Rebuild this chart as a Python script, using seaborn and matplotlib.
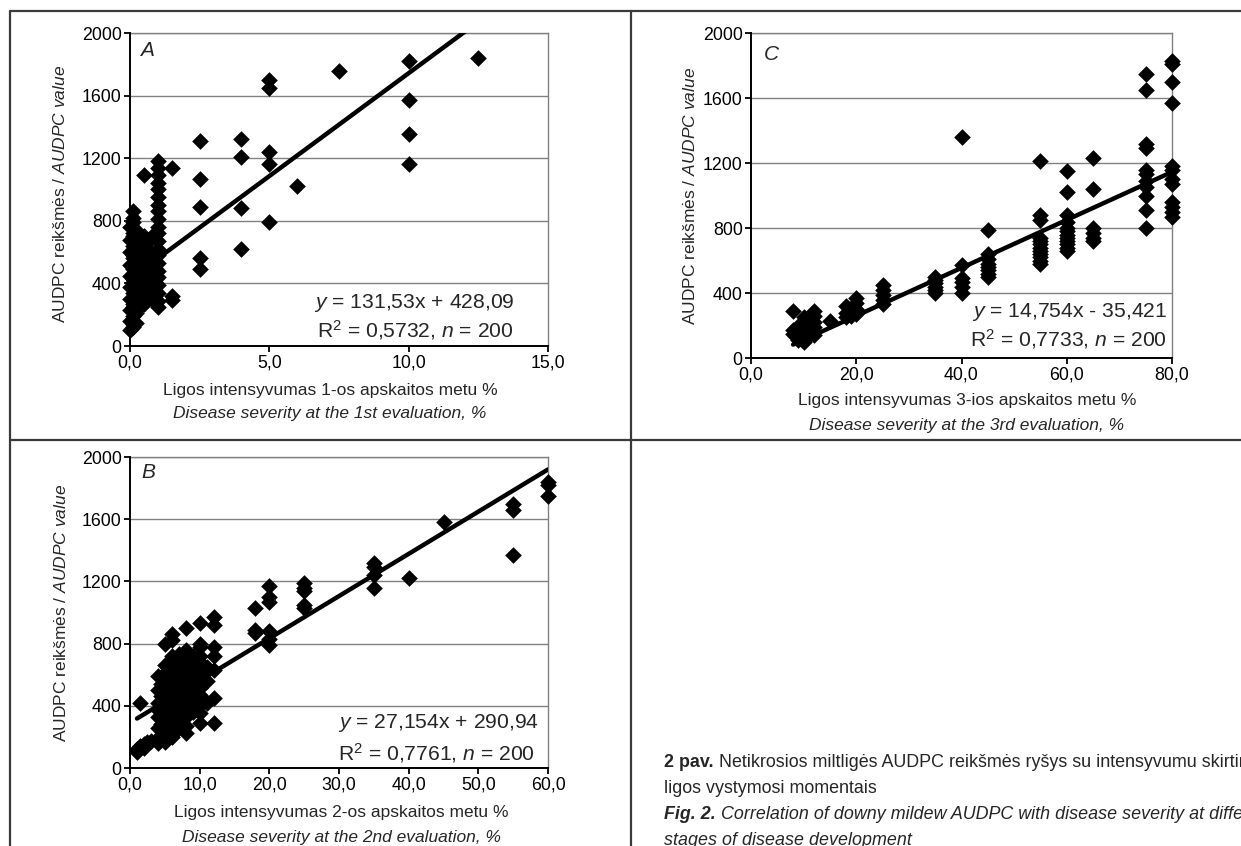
import matplotlib
matplotlib.use('Agg')
import matplotlib.pyplot as plt
from matplotlib.lines import Line2D
import seaborn as sns
import numpy as np
import pandas as pd

# ---------------- data ----------------
# Panel A: severity at 1st evaluation vs AUDPC
a_x = ([0.0]*10 + [0.1]*17 + [0.2]*8 + [0.3]*6 + [0.5]*8 + [0.7]*6 + [0.9]*5 + [1.0]*21
       + [1.5]*3 + [2.5]*5 + [4.0]*4 + [5.0]*5 + [6.0] + [7.5] + [10.0]*4 + [12.5])
a_y = ([105, 160, 230, 300, 380, 450, 520, 600, 680, 760]
       + [120, 140, 190, 250, 270, 340, 410, 430, 490, 560, 580, 640, 700, 720, 790, 820, 865]
       + [150, 210, 290, 360, 470, 540, 620, 740]
       + [240, 330, 400, 510, 600, 660]
       + [270, 350, 420, 480, 560, 640, 700, 1090]
       + [320, 390, 450, 530, 610, 680]
       + [280, 410, 500, 590, 720]
       + [250, 290, 340, 390, 440, 480, 530, 580, 620, 670, 720, 760, 810, 860, 900, 950,
          1000, 1040, 1090, 1140, 1185]
       + [295, 320, 1135]
       + [1310, 1065, 885, 565, 490]
       + [1320, 1210, 880, 620]
       + [1700, 1650, 1240, 1160, 795]
       + [1020] + [1755]
       + [1820, 1575, 1355, 1160]
       + [1840])

# Panel B: severity at 2nd evaluation vs AUDPC
b_x = ([1.0]*2 + [1.5]*2 + [2.0]*2 + [2.5] + [3.0] + [4.0]*8 + [4.5]*4 + [5.0]*12 + [5.5]*5
       + [6.0]*13 + [7.0]*10 + [8.0]*11 + [9.0]*6 + [10.0]*12 + [11.0]*3 + [12.0]*7
       + [18.0]*3 + [20.0]*6 + [25.0]*5 + [35.0]*4 + [40.0] + [45.0] + [55.0]*3 + [60.0]*3)
b_y = ([120, 100] + [420, 140] + [155, 130] + [170] + [175]
       + [160, 190, 260, 330, 370, 420, 500, 590]
       + [210, 280, 460, 540]
       + [800, 660, 610, 560, 520, 480, 420, 380, 320, 270, 230, 170]
       + [640, 580, 360, 300, 240]
       + [860, 820, 720, 680, 600, 550, 500, 440, 380, 330, 280, 240, 200]
       + [730, 680, 620, 560, 500, 450, 400, 350, 300, 260]
       + [900, 760, 700, 660, 610, 545, 470, 400, 330, 270, 225]
       + [720, 640, 580, 500, 430, 360]
       + [930, 800, 780, 720, 680, 620, 560, 515, 470, 405, 355, 290]
       + [650, 560, 420]
       + [970, 920, 780, 720, 630, 450, 290]
       + [1030, 890, 870]
       + [1170, 1100, 1070, 880, 830, 790]
       + [1190, 1160, 1140, 1050, 1030]
       + [1320, 1290, 1240, 1160]
       + [1220] + [1580]
       + [1700, 1660, 1370]
       + [1840, 1820, 1750])

# Panel C: severity at 3rd evaluation vs AUDPC
c_x = ([8.0]*3 + [9.0]*3 + [10.0]*8 + [11.0]*3 + [12.0]*6 + [15.0] + [18.0]*3 + [19.0]*2
       + [20.0]*4 + [25.0]*5 + [35.0]*6 + [40.0]*6 + [45.0]*8 + [55.0]*12 + [60.0]*12
       + [65.0]*6 + [75.0]*11 + [80.0]*12)
c_y = ([290, 170, 150] + [200, 130, 110]
       + [250, 230, 200, 180, 160, 140, 120, 100]
       + [210, 170, 140]
       + [290, 260, 220, 190, 160, 140]
       + [230]
       + [320, 280, 250] + [300, 260]
       + [370, 340, 300, 270]
       + [450, 420, 390, 360, 330]
       + [500, 480, 460, 440, 420, 400]
       + [1360, 570, 490, 470, 440, 400]
       + [790, 640, 610, 580, 560, 540, 520, 500]
       + [1210, 880, 850, 740, 720, 700, 680, 660, 640, 620, 600, 580]
       + [1150, 1020, 880, 840, 800, 780, 760, 740, 720, 700, 680, 660]
       + [1230, 1040, 800, 770, 740, 720]
       + [1750, 1650, 1320, 1290, 1160, 1130, 1090, 1050, 1000, 910, 800]
       + [1830, 1810, 1700, 1570, 1180, 1160, 1100, 1070, 960, 930, 900, 870])

# regression coefficients printed on the chart
a_slope, a_icpt = 131.53, 428.09
b_slope, b_icpt = 27.154, 290.94
c_slope, c_icpt = 14.754, -35.421

a_eq = ["$y$ = 131,53x + 428,09", "R$^2$ = 0,5732, $n$ = 200"]
b_eq = ["$y$ = 27,154x + 290,94", "R$^2$ = 0,7761, $n$ = 200"]
c_eq = ["$y$ = 14,754x - 35,421", "R$^2$ = 0,7733, $n$ = 200"]

a_xlabel = ["Ligos intensyvumas 1-os apskaitos metu %", "Disease severity at the 1st evaluation, %"]
b_xlabel = ["Ligos intensyvumas 2-os apskaitos metu %", "Disease severity at the 2nd evaluation, %"]
c_xlabel = ["Ligos intensyvumas 3-ios apskaitos metu %", "Disease severity at the 3rd evaluation, %"]
ylabel_txt = "AUDPC reikšmės / $\\mathit{AUDPC\\ value}$"

y_ticks = [0, 400, 800, 1200, 1600, 2000]
a_xticks = [0, 5, 10, 15]
b_xticks = [0, 10, 20, 30, 40, 50, 60]
c_xticks = [0, 20, 40, 60, 80]

cap1_bold = "2 pav."
cap1_rest = " Netikrosios miltligės AUDPC reikšmės ryšys su intensyvumu skirtingais"
cap2 = "ligos vystymosi momentais"
cap3_bold = "Fig. 2."
cap3_rest = " Correlation of downy mildew AUDPC with disease severity at different"
cap4 = "stages of disease development"

# ---------------- style ----------------
sns.set_theme(style='white')
FONT = 'Liberation Sans'
plt.rcParams['font.family'] = [FONT, 'DejaVu Sans']
plt.rcParams['mathtext.fontset'] = 'custom'
plt.rcParams['mathtext.rm'] = FONT
plt.rcParams['mathtext.it'] = FONT + ':italic'
plt.rcParams['mathtext.bf'] = FONT + ':bold'

W, H = 1241, 846
fig = plt.figure(figsize=(W / 100, H / 100), dpi=100)
fig.patch.set_facecolor('white')


def fx(x):
    return x / W


def fy(y):
    return 1 - y / H


def rect(l, t, r, b):
    return [l / W, 1 - b / H, (r - l) / W, (b - t) / H]


TICK_FS = 12.8
LAB_FS = 12.5
EQ_FS = 15.2
LET_FS = 15


def panel(box, x, y, slope, icpt, xticks, letter, let_pos, eq, eq_pos, xlabel, xl_pos, yl_pos):
    ax = fig.add_axes(rect(*box))
    df = pd.DataFrame({'x': x, 'y': y})
    xl = np.array([min(x), max(x)], dtype=float)
    sns.scatterplot(data=df, x='x', y='y', ax=ax, marker='D', color='black', s=72,
                    linewidth=0, zorder=3, clip_on=False)
    sns.lineplot(x=xl, y=slope * xl + icpt, ax=ax, color='black', linewidth=3.2, zorder=4)
    ax.set_xlim(xticks[0], xticks[-1])
    ax.set_ylim(0, 2000)
    ax.set_xticks(xticks)
    ax.set_xticklabels([f"{v:.1f}".replace('.', ',') for v in xticks])
    ax.set_yticks(y_ticks)
    ax.set_yticklabels([str(v) for v in y_ticks])
    ax.set_xlabel('')
    ax.set_ylabel('')
    ax.yaxis.grid(True, color='#808080', linewidth=1.0)
    ax.xaxis.grid(False)
    ax.set_axisbelow(True)
    for s in ['left', 'bottom']:
        ax.spines[s].set_color('black')
        ax.spines[s].set_linewidth(1.4)
        ax.spines[s].set_zorder(5)
    for s in ['top', 'right']:
        ax.spines[s].set_color('#808080')
        ax.spines[s].set_linewidth(1.0)
    ax.tick_params(axis='both', direction='out', length=4, width=1.3, colors='black',
                   labelsize=TICK_FS, pad=2)
    ax.tick_params(axis='both', bottom=True, left=True)
    fig.text(fx(let_pos[0]), fy(let_pos[1]), letter, fontsize=LET_FS, style='italic',
             ha='center', va='center')
    fig.text(fx(eq_pos[0][0]), fy(eq_pos[0][1]), eq[0], fontsize=EQ_FS, ha='right', va='center')
    fig.text(fx(eq_pos[1][0]), fy(eq_pos[1][1]), eq[1], fontsize=EQ_FS, ha='right', va='center')
    fig.text(fx(xl_pos[0]), fy(xl_pos[1]), xlabel[0], fontsize=LAB_FS, ha='center', va='center')
    fig.text(fx(xl_pos[0]), fy(xl_pos[2]), xlabel[1], fontsize=LAB_FS, ha='center',
             va='center', style='italic')
    fig.text(fx(yl_pos[0]), fy(yl_pos[1]), ylabel_txt, fontsize=LAB_FS, rotation=90,
             ha='center', va='center')
    return ax


panel((130, 33, 548, 346), a_x, a_y, a_slope, a_icpt, a_xticks, 'A', (147, 50), a_eq,
      [(515, 303), (514, 330)], a_xlabel, (330, 390, 413), (60, 194))
panel((751, 33, 1172, 358), c_x, c_y, c_slope, c_icpt, c_xticks, 'C', (771, 54), c_eq,
      [(1167, 312), (1167, 339)], c_xlabel, (967, 400, 425), (690, 196))
panel((130, 457, 548, 768), b_x, b_y, b_slope, b_icpt, b_xticks, 'B', (148, 472), b_eq,
      [(539, 723), (535, 753)], b_xlabel, (341, 812, 837), (61, 613))

# frame lines
for (x1, y1, x2, y2) in [(10, 11, 1241, 11), (10, 11, 10, 846), (631, 11, 631, 846),
                         (10, 440, 1241, 440)]:
    fig.add_artist(Line2D([fx(x1), fx(x2)], [fy(y1), fy(y2)], color='#3a3a3a',
                          linewidth=1.6, transform=fig.transFigure))

# caption
CAP_FS = 12.9
r = fig.canvas.get_renderer()
x0 = 664
t = fig.text(fx(x0), fy(762), cap1_bold, fontsize=CAP_FS, fontweight='bold', va='center')
w = t.get_window_extent(r).width
fig.text(fx(x0 + w), fy(762), cap1_rest, fontsize=CAP_FS, va='center')
fig.text(fx(x0), fy(788), cap2, fontsize=CAP_FS, va='center')
t = fig.text(fx(x0), fy(814), cap3_bold, fontsize=CAP_FS, fontweight='bold', style='italic',
             va='center')
w = t.get_window_extent(r).width
fig.text(fx(x0 + w), fy(814), cap3_rest, fontsize=CAP_FS, style='italic', va='center')
fig.text(fx(x0), fy(840), cap4, fontsize=CAP_FS, style='italic', va='center')

fig.savefig('out.png', dpi=100, facecolor='white')
